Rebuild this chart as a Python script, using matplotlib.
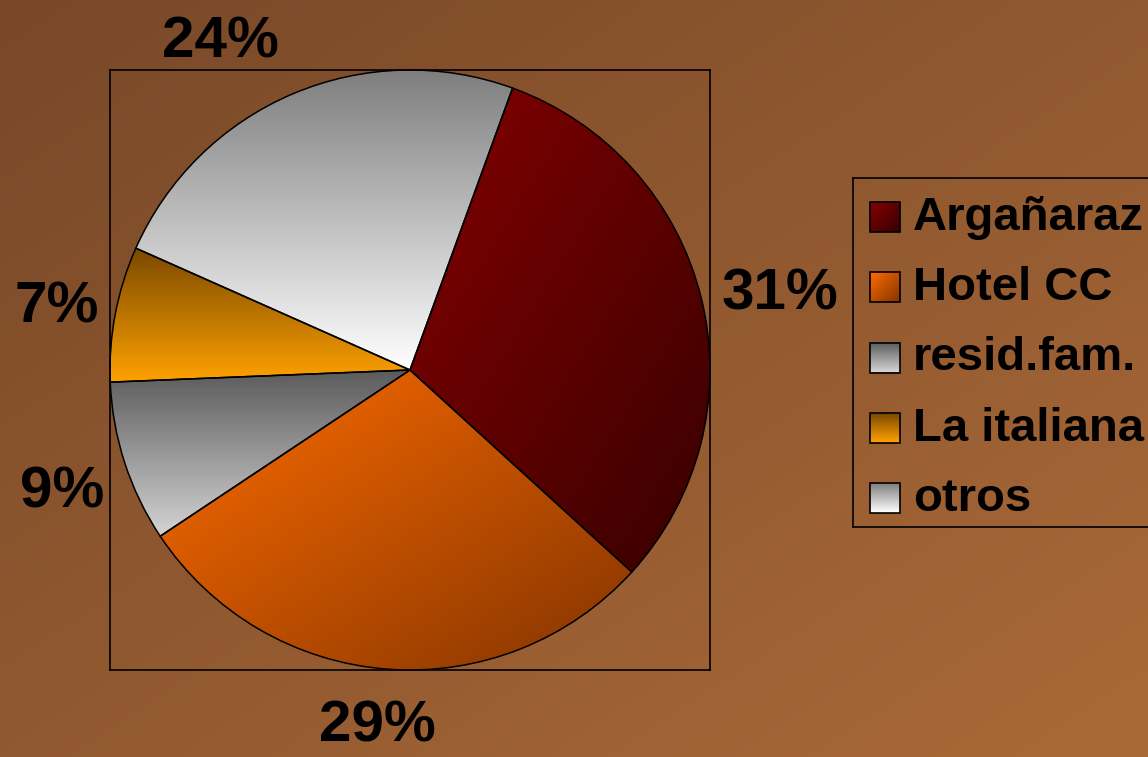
import numpy as np
import matplotlib
matplotlib.use("Agg")
import matplotlib.pyplot as plt
from matplotlib.colors import to_rgb
from matplotlib.patches import Rectangle

plt.rcParams['font.family'] = ['Liberation Sans', 'DejaVu Sans']
plt.rcParams['font.weight'] = 'bold'

# data
labels = ['Argañaraz', 'Hotel CC', 'resid.fam.', 'La italiana', 'otros']
values = [31.2, 28.9, 8.7, 7.3, 23.9]
# gradient start / end colours and direction for each slice
grad_start = ['#840000', '#ff6c00', '#5a5a5a', '#7a4800', '#7e7e7e']
grad_end = ['#380000', '#843400', '#d4d4d4', '#ffa200', '#ffffff']
grad_dir = ['diag', 'diag', 'vert', 'vert', 'vert']
# where the percentage labels sit (pie radius = 1), x centre / baseline
label_pos = [(1.233, 0.20), (-0.11, -1.24), (-1.16, -0.457), (-1.177, 0.157), (-0.633, 1.04)]


def gradient_img(c0, c1, kind, n=200):
    yy, xx = np.mgrid[0:1:n * 1j, 0:1:n * 1j]  # row 0 = top (origin upper)
    if kind == 'diag':
        t = (xx + yy) / 2
    else:
        t = yy
    c0 = np.array(to_rgb(c0))
    c1 = np.array(to_rgb(c1))
    return c0 + (c1 - c0) * t[..., None]


W, H = 1148, 757
fig = plt.figure(figsize=(W / 100, H / 100), dpi=100)

# background gradient
bg = fig.add_axes([0, 0, 1, 1])
bg.imshow(gradient_img('#784828', '#aa6a38', 'diag'), aspect='auto', extent=[0, 1, 0, 1])
bg.axis('off')

# pie area
ax = fig.add_axes([110 / W, (H - 670) / H, 600 / W, 600 / H])
ax.set_facecolor('none')
wedges, texts, autotexts = ax.pie(values, startangle=70, counterclock=False, radius=1,
                                  autopct='%1.0f%%',
                                  wedgeprops=dict(edgecolor='black', linewidth=1.1),
                                  textprops=dict(fontsize=42, fontweight='bold', color='black'))
for w, c0, c1, d in zip(wedges, grad_start, grad_end, grad_dir):
    ext = w.get_path().get_extents()
    w.set_facecolor('none')
    im = ax.imshow(gradient_img(c0, c1, d), extent=[ext.x0, ext.x1, ext.y0, ext.y1],
                   aspect='auto', zorder=0.5)
    im.set_clip_path(w)
for t, pos in zip(autotexts, label_pos):
    t.set_position(pos)
    t.set_va('baseline')
    t.set_ha('center')
    t.set_clip_on(False)
ax.set_xlim(-1, 1)
ax.set_ylim(-1, 1)
ax.set_aspect('auto')
ax.set_frame_on(True)
ax.set_xticks([])
ax.set_yticks([])
for s in ax.spines.values():
    s.set_visible(True)
    s.set_color('black')
    s.set_linewidth(1.2)

# legend drawn by hand so the swatches can carry the gradient
lx0, ly0, lx1, ly1 = 853, 178, 1170, 527
lg = fig.add_axes([lx0 / W, (H - ly1) / H, (lx1 - lx0) / W, (ly1 - ly0) / H])
lg.set_facecolor('none')
lg.set_xticks([])
lg.set_yticks([])
for s in lg.spines.values():
    s.set_color('black')
    s.set_linewidth(1.2)
row_y = np.linspace(217, 498, len(labels))
for lab, c0, c1, d, y in zip(labels, grad_start, grad_end, grad_dir, row_y):
    lg.imshow(gradient_img(c0, c1, d, 40), extent=[870, 900, y + 15, y - 15], aspect='auto')
    lg.add_patch(Rectangle((870, y - 15), 30, 30, fill=False, edgecolor='black', linewidth=1.2))
    lg.text(913, y + 1, lab, fontsize=34, fontweight='bold', va='center', ha='left')
lg.set_xlim(lx0, lx1)
lg.set_ylim(ly1, ly0)

fig.savefig('out.png', dpi=100)
